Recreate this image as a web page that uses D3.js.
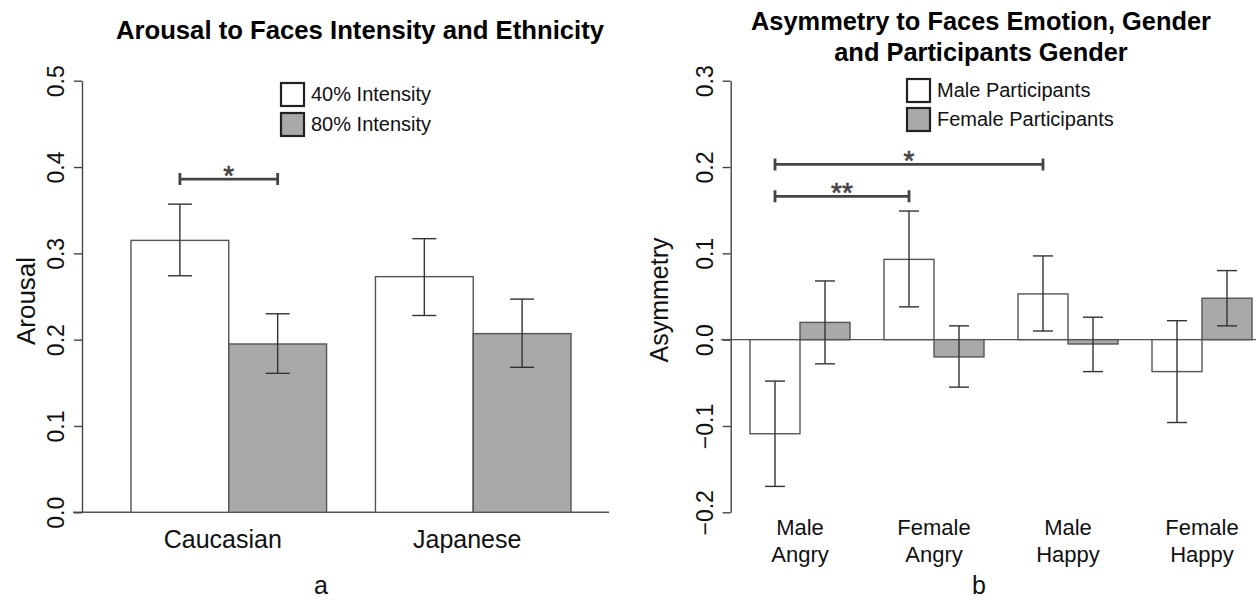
<!DOCTYPE html>
<html>
<head>
<meta charset="utf-8">
<script src="https://cdn.jsdelivr.net/npm/d3@7"></script>
<style>
  html, body { margin: 0; padding: 0; background: #fff; }
  svg { display: block; font-family: "Liberation Sans", Arial, Helvetica, sans-serif; }
</style>
</head>
<body>
<svg id="chart" width="1256" height="601"></svg>
<script>
// ---------- Panel a data ----------
const groupsA = ["Caucasian", "Japanese"];
const seriesA = ["40% Intensity", "80% Intensity"];
const arousal40 = [0.315, 0.273];
const arousal80 = [0.195, 0.207];
const arousal40Lo = [0.274, 0.228];
const arousal40Hi = [0.357, 0.317];
const arousal80Lo = [0.161, 0.168];
const arousal80Hi = [0.230, 0.247];
const ticksA = [0.0, 0.1, 0.2, 0.3, 0.4, 0.5];
const sigA = [{ g1: 0, s1: 0, g2: 0, s2: 1, y: 0.386, label: "*" }];

// ---------- Panel b data ----------
const groupsB = ["Male Angry", "Female Angry", "Male Happy", "Female Happy"];
const groupLinesB = [["Male", "Angry"], ["Female", "Angry"], ["Male", "Happy"], ["Female", "Happy"]];
const seriesB = ["Male Participants", "Female Participants"];
const asymMale = [-0.109, 0.093, 0.053, -0.037];
const asymFemale = [0.020, -0.020, -0.005, 0.048];
const asymMaleLo = [-0.170, 0.038, 0.010, -0.096];
const asymMaleHi = [-0.048, 0.149, 0.097, 0.022];
const asymFemaleLo = [-0.028, -0.055, -0.037, 0.016];
const asymFemaleHi = [0.068, 0.016, 0.026, 0.080];
const ticksB = [-0.2, -0.1, 0.0, 0.1, 0.2, 0.3];
const sigB = [
  { g1: 0, s1: 0, g2: 2, s2: 0, y: 0.203, label: "*" },
  { g1: 0, s1: 0, g2: 1, s2: 0, y: 0.166, label: "**" }
];

const fills = ["#ffffff", "#a9a9a9"];
const svg = d3.select("#chart");
const FONT = '"Liberation Sans", Arial, Helvetica, sans-serif';

function panel(cfg) {
  const g = svg.append("g");
  const y = d3.scaleLinear().domain(cfg.yDomain).range([512.3, 80.7]);
  const x = d3.scaleBand().domain(cfg.groups).range(cfg.xRange).paddingInner(cfg.padInner);
  const xs = d3.scaleBand().domain(cfg.series).range([0, x.bandwidth()]);

  const rows = [];
  cfg.groups.forEach((grp, i) => {
    cfg.series.forEach((s, j) => {
      rows.push({ grp, s, j, v: cfg.values[j][i], lo: cfg.lo[j][i], hi: cfg.hi[j][i] });
    });
  });

  // zero / base line
  g.append("line")
    .attr("x1", cfg.baseX[0]).attr("x2", cfg.baseX[1])
    .attr("y1", y(0)).attr("y2", y(0))
    .attr("stroke", "#555").attr("stroke-width", 1.4);

  // bars
  g.selectAll("rect.bar").data(rows).join("rect")
    .attr("class", "bar")
    .attr("x", d => x(d.grp) + xs(d.s))
    .attr("width", xs.bandwidth())
    .attr("y", d => y(Math.max(0, d.v)))
    .attr("height", d => Math.abs(y(d.v) - y(0)))
    .attr("fill", d => fills[d.j])
    .attr("stroke", "#555").attr("stroke-width", 1.4);

  // error bars
  const cx = d => x(d.grp) + xs(d.s) + xs.bandwidth() / 2;
  const eb = g.append("g").attr("stroke", "#333").attr("stroke-width", 1.4);
  eb.selectAll("line.v").data(rows).join("line")
    .attr("x1", cx).attr("x2", cx).attr("y1", d => y(d.lo)).attr("y2", d => y(d.hi));
  eb.selectAll("line.t").data(rows).join("line")
    .attr("x1", d => cx(d) - cfg.cap).attr("x2", d => cx(d) + cfg.cap)
    .attr("y1", d => y(d.hi)).attr("y2", d => y(d.hi));
  eb.selectAll("line.b").data(rows).join("line")
    .attr("x1", d => cx(d) - cfg.cap).attr("x2", d => cx(d) + cfg.cap)
    .attr("y1", d => y(d.lo)).attr("y2", d => y(d.lo));

  // y axis
  const ax = g.append("g").attr("transform", `translate(${cfg.axisX},0)`)
    .call(d3.axisLeft(y).tickValues(cfg.ticks).tickSize(8).tickSizeOuter(0).tickFormat(d3.format(".1f")));
  ax.select(".domain").attr("stroke", "#444").attr("stroke-width", 1.4);
  ax.selectAll(".tick line").attr("stroke", "#444").attr("stroke-width", 1.4);
  ax.selectAll(".tick text")
    .attr("transform", "rotate(-90)")
    .attr("x", 0).attr("y", -18).attr("dy", 0)
    .attr("text-anchor", "middle")
    .attr("font-family", FONT).attr("font-size", cfg.tickFont).attr("fill", "#111");

  // y title
  g.append("text")
    .attr("transform", `translate(${cfg.yTitle[0]},${cfg.yTitle[1]}) rotate(-90)`)
    .attr("text-anchor", "middle")
    .attr("font-size", cfg.yTitleFont).attr("fill", "#111")
    .text(cfg.yLabel);

  // category labels
  cfg.groups.forEach((grp, i) => {
    const t = g.append("text")
      .attr("text-anchor", "middle")
      .attr("font-size", cfg.catFont).attr("fill", "#111");
    cfg.catLines[i].forEach((ln, k) => {
      t.append("tspan").attr("x", x(grp) + x.bandwidth() / 2 + cfg.catDx)
        .attr("y", cfg.catY + k * cfg.catLH).text(ln);
    });
  });

  // title
  const tt = g.append("text").attr("text-anchor", "middle")
    .attr("font-size", cfg.titleFont).attr("font-weight", "bold").attr("fill", "#000");
  cfg.title.forEach((ln, k) => {
    tt.append("tspan").attr("x", cfg.titleX).attr("y", cfg.titleY + k * cfg.titleLH).text(ln);
  });

  // legend
  const lg = g.append("g");
  cfg.series.forEach((s, j) => {
    lg.append("rect")
      .attr("x", cfg.legX).attr("y", cfg.legY + j * cfg.legStep)
      .attr("width", 23).attr("height", 23)
      .attr("fill", fills[j]).attr("stroke", "#222").attr("stroke-width", 2.2);
    lg.append("text")
      .attr("x", cfg.legX + 30).attr("y", cfg.legY + j * cfg.legStep + 18)
      .attr("font-size", cfg.legFont).attr("fill", "#111").text(s);
  });

  // significance brackets
  const sg = g.append("g");
  cfg.sig.forEach(b => {
    const x1 = x(cfg.groups[b.g1]) + xs(cfg.series[b.s1]) + xs.bandwidth() / 2;
    const x2 = x(cfg.groups[b.g2]) + xs(cfg.series[b.s2]) + xs.bandwidth() / 2;
    const yy = y(b.y);
    const p = d3.path();
    p.moveTo(x1, yy); p.lineTo(x2, yy);
    p.moveTo(x1, yy - 6); p.lineTo(x1, yy + 6);
    p.moveTo(x2, yy - 6); p.lineTo(x2, yy + 6);
    sg.append("path").attr("d", p.toString())
      .attr("stroke", "#444").attr("stroke-width", 2.8).attr("fill", "none");
    sg.append("text")
      .attr("x", (x1 + x2) / 2).attr("y", yy + 6)
      .attr("text-anchor", "middle")
      .attr("font-size", 28).attr("fill", "#444")
      .attr("stroke", "#444").attr("stroke-width", 0.6)
      .text(b.label);
  });

  // panel letter
  g.append("text").attr("x", cfg.letterX).attr("y", 594)
    .attr("text-anchor", "middle").attr("font-size", 25).attr("fill", "#111")
    .text(cfg.letter);
}

panel({
  groups: groupsA, series: seriesA,
  values: [arousal40, arousal80], lo: [arousal40Lo, arousal80Lo], hi: [arousal40Hi, arousal80Hi],
  ticks: ticksA, yDomain: [0, 0.5],
  xRange: [131, 571], padInner: 0.2, axisX: 82, baseX: [73, 609], cap: 12,
  tickFont: 23, yLabel: "Arousal", yTitle: [35, 301], yTitleFont: 26,
  catLines: groupsA.map(d => [d]), catY: 548, catLH: 26, catFont: 25, catDx: -6,
  title: ["Arousal to Faces Intensity and Ethnicity"], titleX: 360, titleY: 39, titleLH: 31, titleFont: 25.7,
  legX: 281, legY: 83, legStep: 30, legFont: 20,
  sig: sigA, letter: "a", letterX: 321
});

panel({
  groups: groupsB, series: seriesB,
  values: [asymMale, asymFemale], lo: [asymMaleLo, asymFemaleLo], hi: [asymMaleHi, asymFemaleHi],
  ticks: ticksB, yDomain: [-0.2, 0.3],
  xRange: [750, 1252], padInner: 0.2537, axisX: 730.7, baseX: [721, 1256], cap: 10,
  tickFont: 23, yLabel: "Asymmetry", yTitle: [668, 300], yTitleFont: 25,
  catLines: groupLinesB, catY: 535, catLH: 27, catFont: 22, catDx: 0,
  title: ["Asymmetry to Faces Emotion, Gender", "and Participants Gender"], titleX: 981, titleY: 30, titleLH: 31, titleFont: 25.4,
  legX: 907, legY: 79, legStep: 29, legFont: 20,
  sig: sigB, letter: "b", letterX: 979
});
</script>
</body>
</html>
